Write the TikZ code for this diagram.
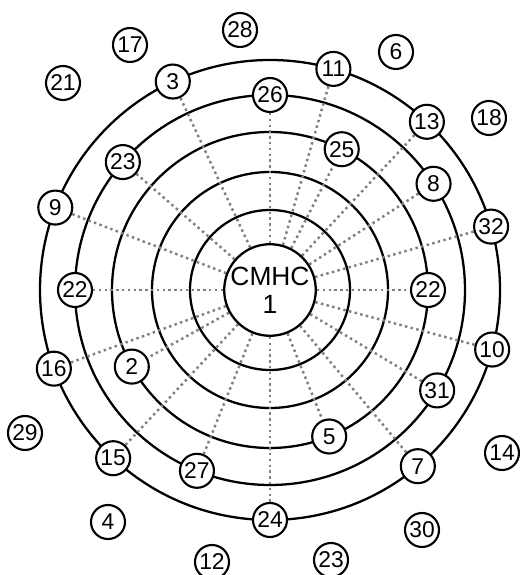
\documentclass[tikz,border=0pt]{standalone}
\usepackage{fontspec}
\setmainfont{Liberation Sans}
\usetikzlibrary{backgrounds}
\begin{document}
\begin{tikzpicture}[line width=1.3pt,
		unit/.style={circle, draw, line width=1.2pt, fill=white, inner sep=0pt, minimum size=0.68cm, font=\fontsize{13}{13}\selectfont},
		ring/.style={line width=1.3pt},
		spoke/.style={gray, line width=1.4pt, dash pattern=on 1.4pt off 1.9pt}]
	\useasboundingbox (-5.4,-5.7) rectangle (4.98,5.8);
	% centre
	\node[circle, draw, line width=1.3pt, fill=white, minimum size=1.76cm, inner sep=0pt, align=center, font=\fontsize{15}{16}\selectfont] (cmhc) at (0,0) {CMHC\\1};
	% outer ring
	\node[unit] (n3) at (115:4.6) {3};
	\node[unit] (n11) at (74:4.6) {11};
	\node[unit] (n13) at (47:4.6) {13};
	\node[unit] (n32) at (16:4.6) {32};
	\node[unit] (n10) at (-15:4.6) {10};
	\node[unit] (n7) at (-50:4.6) {7};
	\node[unit] (n24) at (-90:4.6) {24};
	\node[unit] (n15) at (-133:4.6) {15};
	\node[unit] (n16) at (-160:4.6) {16};
	\node[unit] (n9) at (159:4.6) {9};
	% second ring
	\node[unit] (n26) at (90:3.9) {26};
	\node[unit] (n23a) at (139:3.9) {23};
	\node[unit] (n22l) at (180:3.9) {22};
	\node[unit] (n8) at (33:3.9) {8};
	\node[unit] (n31) at (-31:3.9) {31};
	\node[unit] (n27) at (-112:3.9) {27};
	% third ring
	\node[unit] (n25) at (63:3.16) {25};
	\node[unit] (n22r) at (0:3.16) {22};
	\node[unit] (n5) at (-68:3.16) {5};
	\node[unit] (n2) at (-151:3.16) {2};
	% outside
	\node[unit] (n28) at (-0.6,5.2) {28};
	\node[unit] (n17) at (-2.8,4.9) {17};
	\node[unit] (n21) at (-4.14,4.14) {21};
	\node[unit] (n6) at (2.52,4.76) {6};
	\node[unit] (n18) at (4.38,3.44) {18};
	\node[unit] (n29) at (-4.9,-2.86) {29};
	\node[unit] (n4) at (-3.24,-4.64) {4};
	\node[unit] (n12) at (-1.16,-5.44) {12};
	\node[unit] (n14) at (4.64,-3.26) {14};
	\node[unit] (n30) at (3.04,-4.8) {30};
	\node[unit] (n23b) at (1.22,-5.4) {23};
	\begin{scope}[on background layer]
		\draw[ring] (0,0) circle (1.6) (0,0) circle (2.36) (0,0) circle (3.16) (0,0) circle (3.9) (0,0) circle (4.6);
		\draw[spoke] (cmhc) -- (n3);
		\draw[spoke] (cmhc) -- (n11);
		\draw[spoke] (cmhc) -- (n13);
		\draw[spoke] (cmhc) -- (n32);
		\draw[spoke] (cmhc) -- (n10);
		\draw[spoke] (cmhc) -- (n7);
		\draw[spoke] (cmhc) -- (n24);
		\draw[spoke] (cmhc) -- (n15);
		\draw[spoke] (cmhc) -- (n16);
		\draw[spoke] (cmhc) -- (n9);
		\draw[spoke] (cmhc) -- (n26);
		\draw[spoke] (cmhc) -- (n23a);
		\draw[spoke] (cmhc) -- (n22l);
		\draw[spoke] (cmhc) -- (n8);
		\draw[spoke] (cmhc) -- (n31);
		\draw[spoke] (cmhc) -- (n27);
		\draw[spoke] (cmhc) -- (n25);
		\draw[spoke] (cmhc) -- (n22r);
		\draw[spoke] (cmhc) -- (n5);
		\draw[spoke] (cmhc) -- (n2);
	\end{scope}
\end{tikzpicture}
\end{document}
